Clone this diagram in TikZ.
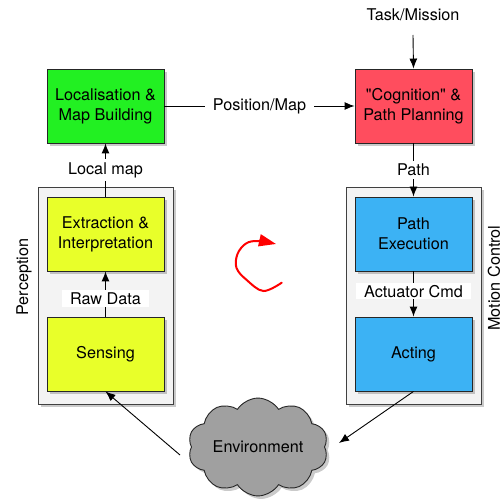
\documentclass[tikz,border=0pt]{standalone}
\usepackage{fontspec}
\setmainfont{TeX Gyre Heros}[Ligatures=TeXOff]
\usetikzlibrary{arrows.meta,shadows,shapes.symbols}
\definecolor{cgreen}{HTML}{22F022}
\definecolor{cred}{HTML}{FF4D5E}
\definecolor{cyellow}{HTML}{E8FF2A}
\definecolor{cblue}{HTML}{3CB2F4}
\definecolor{cgray}{HTML}{A0A0A0}
\definecolor{cframe}{HTML}{F3F3F3}
\begin{document}
\begin{tikzpicture}[x=1pt,y=-1pt,
  font=\fontsize{16.2}{20}\selectfont,
  shad/.style={drop shadow={shadow xshift=3pt,shadow yshift=-3pt,opacity=0.35,fill=black!60}},
  blockbox/.style={draw=black!85,line width=0.9pt,minimum width=117pt,minimum height=74pt,align=center,inner sep=0pt,shad},
  framebox/.style={draw=black!75,line width=0.8pt,fill=cframe,minimum width=135pt,minimum height=217pt,inner sep=0pt,shad},
  arr/.style={draw=black,line width=0.9pt,-{Latex[length=10pt,width=8pt]}},
  lab/.style={fill=white,inner xsep=8pt,inner ysep=3pt},
  side/.style={rotate=90,inner sep=0pt}]
\useasboundingbox (0,0) rectangle (504,500);
% frames
\node[framebox] (percf) at (105.5,295.5) {};
\node[framebox] (motf) at (413.5,295.5) {};
% blocks
\node[blockbox,fill=cgreen] (loc) at (105.5,106) {Localisation \&\\Map Building};
\node[blockbox,fill=cred] (cog) at (413.5,106) {"Cognition" \&\\Path Planning};
\node[blockbox,fill=cyellow] (ext) at (105.5,234) {Extraction \&\\Interpretation};
\node[blockbox,fill=cyellow] (sens) at (105.5,354) {Sensing};
\node[blockbox,fill=cblue] (pexe) at (413.5,234) {Path\\Execution};
\node[blockbox,fill=cblue] (act) at (413.5,354) {Acting};
% cloud
\node[cloud,cloud puffs=10,cloud puff arc=115,aspect=1.6,draw=black!85,line width=0.9pt,fill=cgray,
  minimum width=140pt,minimum height=90pt,inner sep=0pt,shad] (env) at (258,447) {Environment};
% side labels
\node[side] (perclab) at (24,277) {Perception};
\node[side] (motlab) at (494,278) {Motion Control};
% task
\node[inner sep=0pt] (task) at (413,15) {Task/Mission};
\coordinate (taskend) at (413,35);
\draw[arr] (taskend) -- (cog.north);
% connectors
\draw[arr] (loc.east) -- node[lab] {Position/Map} (cog.west);
\draw[arr] (ext.north) -- node[lab] {Local map} (loc.south);
\draw[arr] (cog.south) -- node[lab] {Path} (pexe.north);
\draw[arr] (sens.north) -- node[lab,pos=0.4,inner ysep=2pt] {Raw Data} (ext.south);
\draw[arr] (pexe.south) -- node[lab,pos=0.44,inner ysep=2pt] {Actuator Cmd} (act.north);
\coordinate (envL) at (180,455);
\coordinate (envR) at (339,443);
\draw[arr] (envL) -- (sens.south);
\draw[arr] (act.south) -- (envR);
% red circular arrow
\draw[red,line width=2pt,line cap=round,-{Triangle[length=17pt,width=12pt]}]
  plot[smooth,tension=0.6] coordinates {(281.7,282.7) (263.3,291) (246.7,280) (236.5,268) (237.5,254) (246,243.5) (258,241) (276,244)};
\end{tikzpicture}
\end{document}
